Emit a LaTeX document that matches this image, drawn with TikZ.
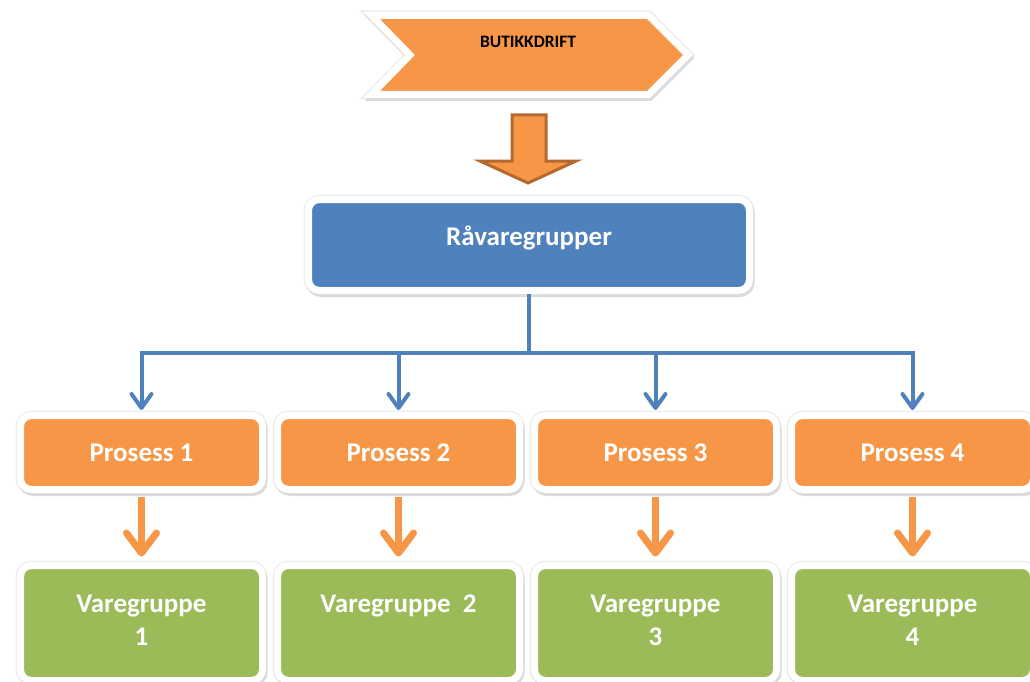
\documentclass[tikz,border=0pt]{standalone}
\usepackage{fontspec}
\setmainfont{Carlito}
\usetikzlibrary{arrows.meta}
\definecolor{boxorange}{HTML}{F79646}
\definecolor{boxblue}{HTML}{4F81BD}
\definecolor{boxgreen}{HTML}{9BBB59}
\definecolor{arrowbrown}{HTML}{B5692F}

\begin{document}
\begin{tikzpicture}[x=1pt,y=-1pt,
  box/.style={draw=white, line width=7pt, rounded corners=11pt, inner sep=0pt,
    font=\fontsize{27}{33}\selectfont\bfseries, text=white, align=center,
    preaction={draw=black!7, line width=10pt},
    preaction={draw=black!14, line width=7pt, transform canvas={xshift=1.5pt,yshift=-3pt}}},
  raavbox/.style={box, fill=boxblue, minimum width=441pt, minimum height=91pt},
  prosbox/.style={box, fill=boxorange, minimum width=242pt, minimum height=74pt},
  varebox/.style={box, fill=boxgreen, minimum width=242pt, minimum height=115pt, text depth=6pt},
  chevron/.style={fill=boxorange, draw=white, line width=7pt, line join=miter,
    preaction={draw=black!7, line width=10pt},
    preaction={draw=black!14, line width=7pt, transform canvas={xshift=1.5pt,yshift=-3pt}}},
  blockarrow/.style={fill=boxorange, draw=arrowbrown, line width=3pt, line join=miter},
  bluelink/.style={draw=boxblue, line width=4pt},
  bluearrow/.style={bluelink, -{Straight Barb[length=14pt,width=20pt,round]}, shorten >=2pt},
  orangearrow/.style={draw=boxorange, line width=7pt, -{Straight Barb[length=20pt,width=30pt,round]},
    shorten <=3.5pt, shorten >=5.5pt}]
\useasboundingbox (0,0) rectangle (1030,682);

% top
\draw[chevron] (371.5,15.5) -- (648.5,15.5) -- (688,55) -- (648.5,94.5) -- (371.5,94.5) -- (410,55) -- cycle;
\node[font=\fontsize{17.5}{20}\selectfont\bfseries] (butikk) at (528,42) {BUTIKKDRIFT};
\draw[blockarrow] (512,115) -- (546,115) -- (546,161) -- (576,161) -- (528,183) -- (480,161) -- (512,161) -- cycle;

\node[raavbox, text height=20pt, text depth=20pt] (raav) at (529,245) {Råvaregrupper};

% prosesser
\node[prosbox] (p1) at (141.5,452.5) {Prosess 1};
\node[prosbox] (p2) at (398.5,452.5) {Prosess 2};
\node[prosbox] (p3) at (655.5,452.5) {Prosess 3};
\node[prosbox] (p4) at (912.5,452.5) {Prosess 4};

% varegrupper
\node[varebox] (v1) at (141.5,623) {Varegruppe\\1};
\node[varebox, text depth=39pt] (v2) at (398.5,623) {Varegruppe~~2};
\node[varebox] (v3) at (655.5,623) {Varegruppe\\3};
\node[varebox] (v4) at (912.5,623) {Varegruppe\\4};

\coordinate (fork) at (529,353);
\draw[bluelink] (raav.south) -- (fork);
\draw[bluearrow] (fork) -| (p1.north);
\draw[bluearrow] (fork) -| (p2.north);
\draw[bluearrow] (fork) -| (p3.north);
\draw[bluearrow] (fork) -| (p4.north);

\draw[orangearrow] (p1.south) -- (v1.north);
\draw[orangearrow] (p2.south) -- (v2.north);
\draw[orangearrow] (p3.south) -- (v3.north);
\draw[orangearrow] (p4.south) -- (v4.north);
\end{tikzpicture}
\end{document}
